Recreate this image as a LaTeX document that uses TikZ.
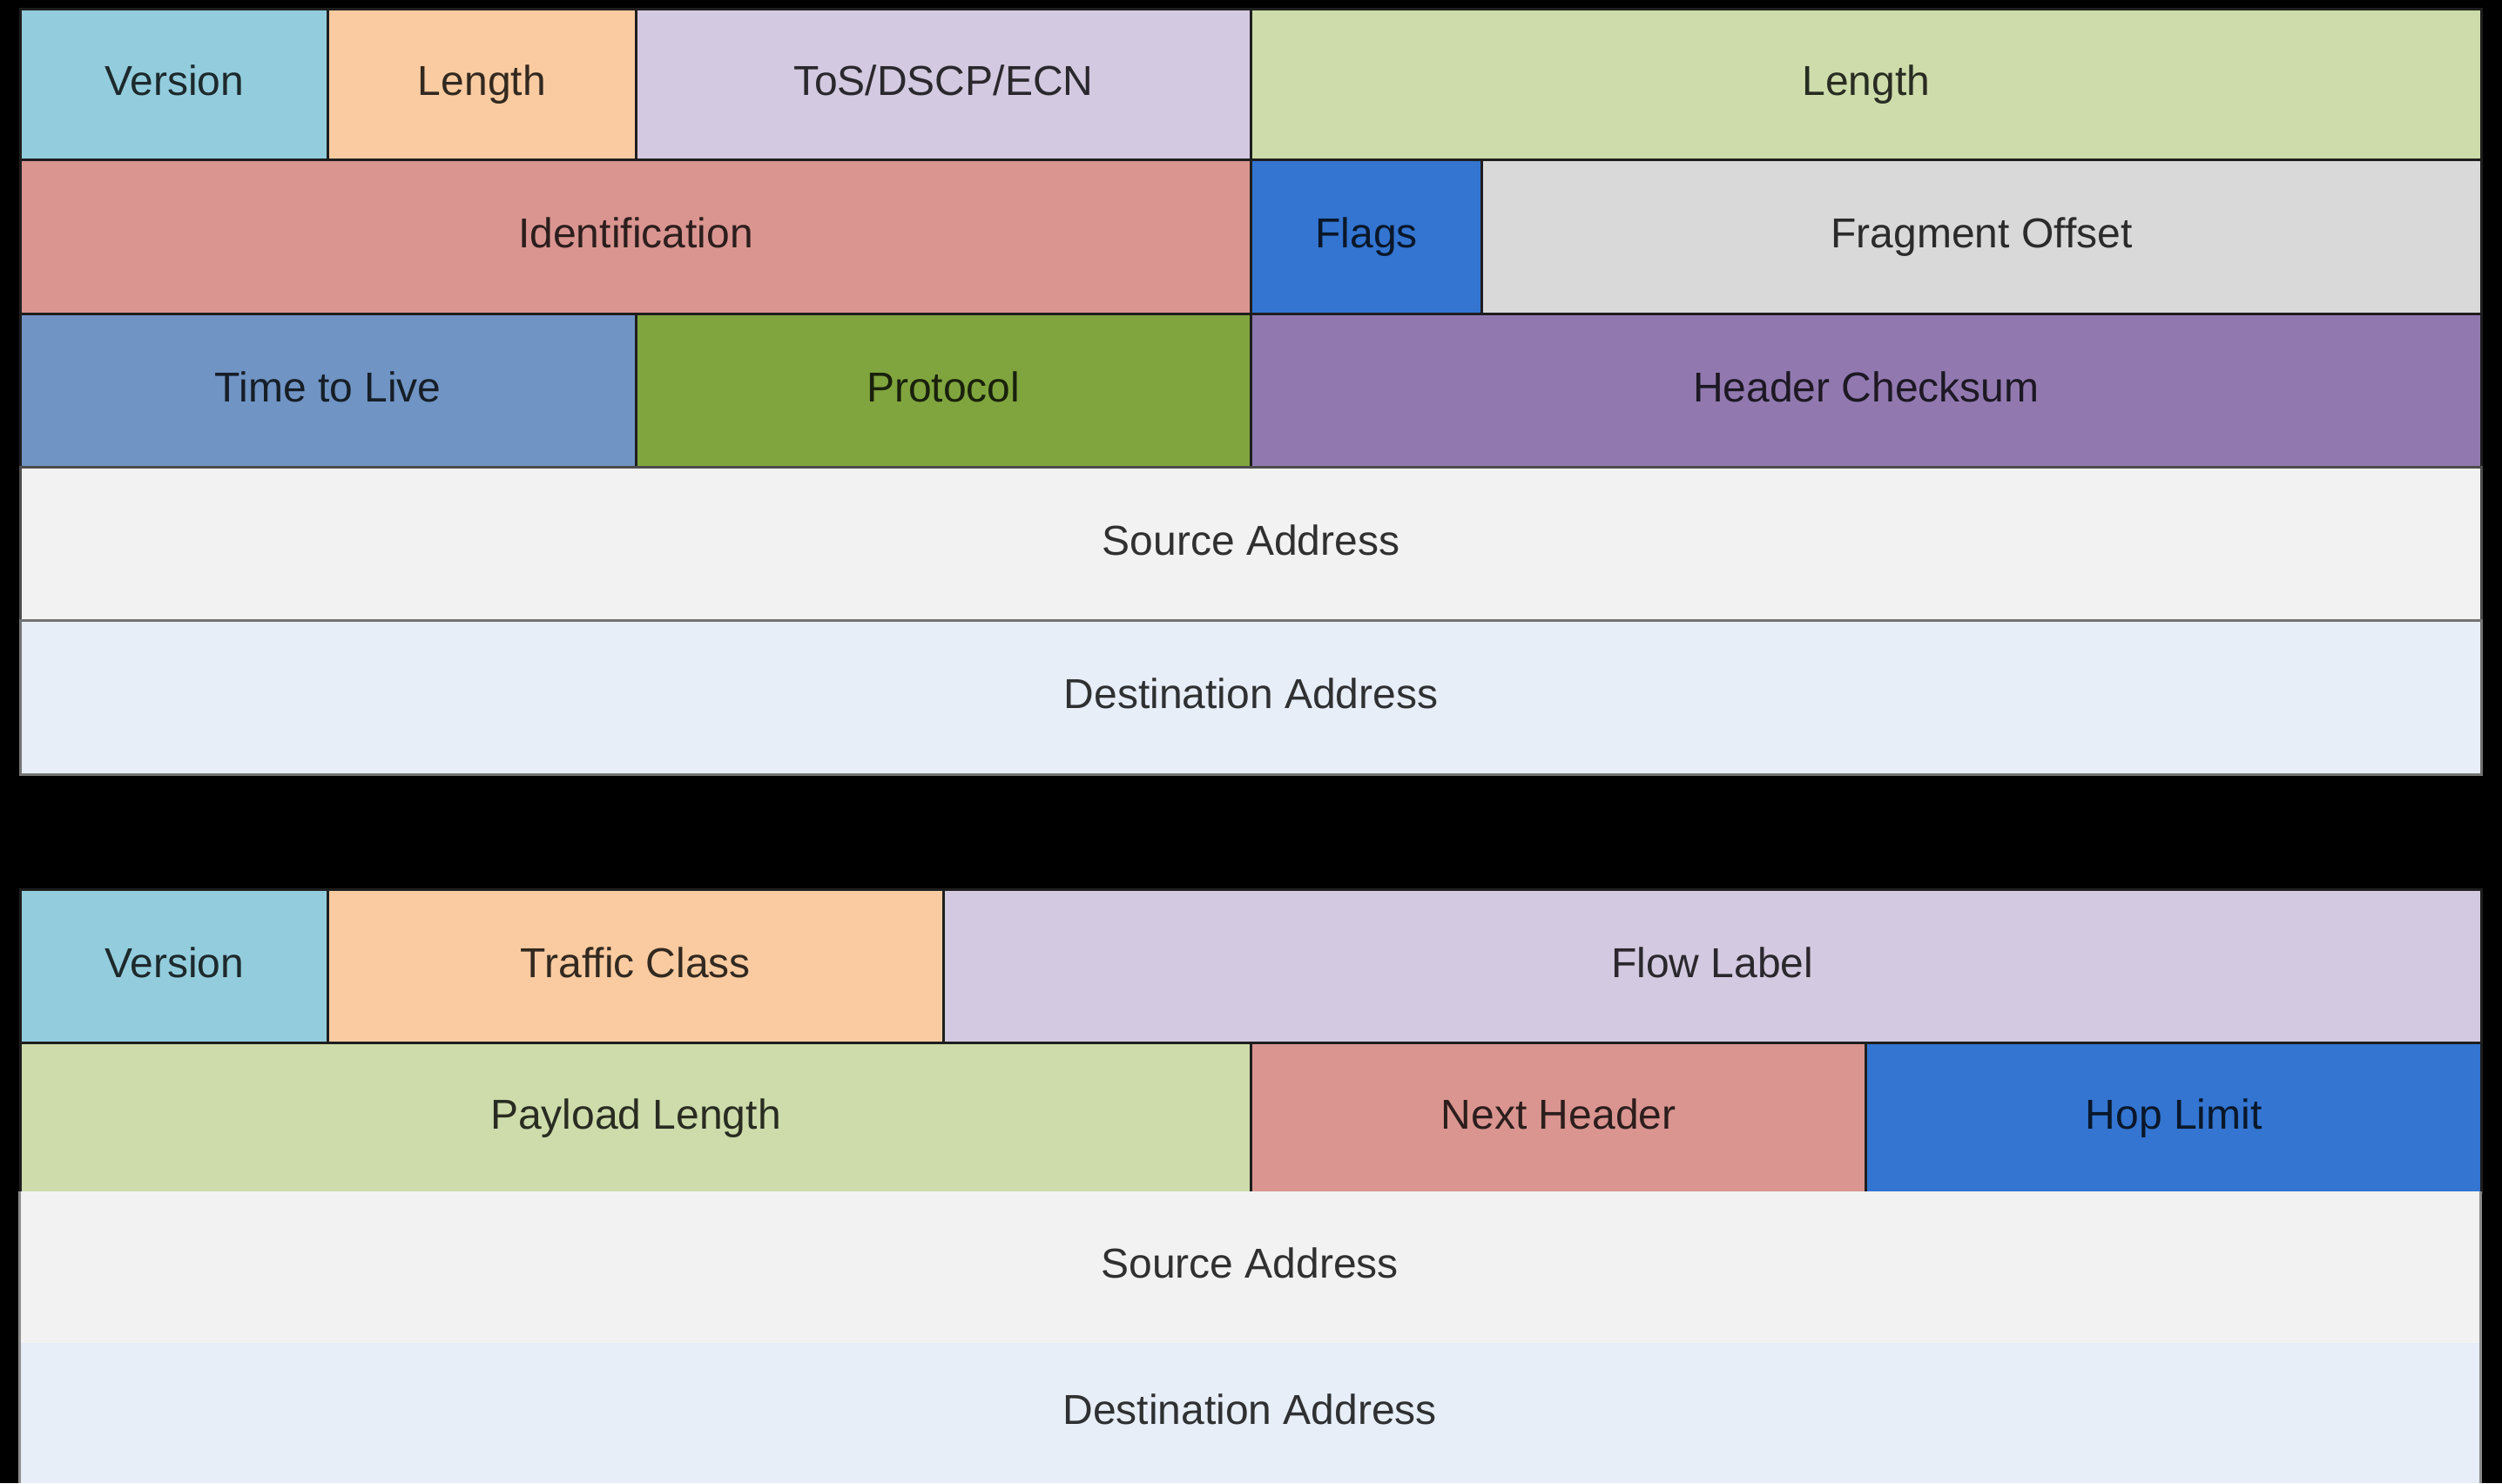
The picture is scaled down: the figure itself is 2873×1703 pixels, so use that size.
\documentclass[tikz,border=0pt]{standalone}
\usepackage{fontspec}
\setmainfont{Liberation Sans}
\definecolor{cVer}{HTML}{93CDDD}
\definecolor{cPeach}{HTML}{FACBA1}
\definecolor{cLav}{HTML}{D3C9E0}
\definecolor{cLGreen}{HTML}{CDDCAA}
\definecolor{cRose}{HTML}{DA9590}
\definecolor{cBlue}{HTML}{3375D1}
\definecolor{cGray}{HTML}{D9D9D9}
\definecolor{cSteel}{HTML}{7094C4}
\definecolor{cOlive}{HTML}{80A53E}
\definecolor{cPurple}{HTML}{9179B0}
\definecolor{cSrc}{HTML}{F2F2F2}
\definecolor{cDst}{HTML}{E7EEF8}
\definecolor{cLine}{HTML}{1E1E1E}
\tikzset{
  cell/.style={draw=cLine, line width=3pt, inner sep=0pt, anchor=north west,
    text height=35pt, text depth=10pt, font=\fontsize{48}{56}\selectfont},
  paint/.style={fill=#1, text=#1!20!black},
  plain/.style={inner sep=0pt, anchor=north west, draw=none,
    text height=35pt, text depth=10pt, font=\fontsize{48}{56}\selectfont},
}
\begin{document}
\begin{tikzpicture}[x=1pt,y=-1pt]
\fill[black] (0,0) rectangle (2873,1703);
\useasboundingbox (0,0) rectangle (2873,1703);
% IPv4 header
\node[cell,paint=cVer,   minimum width=353.3pt, minimum height=173pt] (v4ver) at (22,9) {Version};
\node[cell,paint=cPeach, minimum width=353.2pt, minimum height=173pt] (v4len) at (375.3,9) {Length};
\node[cell,paint=cLav,   minimum width=706.5pt, minimum height=173pt] (v4tos) at (728.5,9) {ToS/DSCP/ECN};
\node[cell,paint=cLGreen,minimum width=1413pt,  minimum height=173pt] (v4tlen) at (1435,9) {Length};
\node[cell,paint=cRose,  minimum width=1413pt,  minimum height=177pt] (v4id) at (22,182) {Identification};
\node[cell,paint=cBlue,  minimum width=265pt,   minimum height=177pt] (v4flags) at (1435,182) {Flags};
\node[cell,paint=cGray,  minimum width=1148pt,  minimum height=177pt] (v4frag) at (1700,182) {Fragment Offset};
\node[cell,paint=cSteel, minimum width=706.5pt, minimum height=176pt] (v4ttl) at (22,359) {Time to Live};
\node[cell,paint=cOlive, minimum width=706.5pt, minimum height=176pt] (v4proto) at (728.5,359) {Protocol};
\node[cell,paint=cPurple,minimum width=1413pt,  minimum height=176pt] (v4csum) at (1435,359) {Header Checksum};
\node[cell,paint=cSrc, draw=black!70, minimum width=2826pt, minimum height=176pt] (v4src) at (22,535) {Source Address};
\node[cell,paint=cDst, draw=black!55, minimum width=2826pt, minimum height=177pt] (v4dst) at (22,711) {Destination Address};
% IPv6 header
\node[cell,paint=cVer,   minimum width=353.3pt, minimum height=176pt] (v6ver) at (22,1020) {Version};
\node[cell,paint=cPeach, minimum width=706.4pt, minimum height=176pt] (v6tc) at (375.3,1020) {Traffic Class};
\node[cell,paint=cLav,   minimum width=1766.3pt,minimum height=176pt] (v6flow) at (1081.7,1020) {Flow Label};
\node[cell,paint=cLGreen,minimum width=1413pt,  minimum height=172pt] (v6plen) at (22,1196) {Payload Length};
\node[cell,paint=cRose,  minimum width=706.4pt, minimum height=172pt] (v6next) at (1435,1196) {Next Header};
\node[cell,paint=cBlue,  minimum width=706.6pt, minimum height=172pt] (v6hop) at (2141.4,1196) {Hop Limit};
\node[plain,paint=cSrc, minimum width=2826pt, minimum height=174pt] (v6src) at (22,1368) {Source Address};
\node[plain,paint=cDst, minimum width=2826pt, minimum height=161pt] (v6dst) at (22,1542) {Destination Address};
\draw[black!45, line width=3pt] (v6src.north west) -- (v6dst.south west);
\draw[black!45, line width=3pt] (v6src.north east) -- (v6dst.south east);
\end{tikzpicture}
\end{document}
